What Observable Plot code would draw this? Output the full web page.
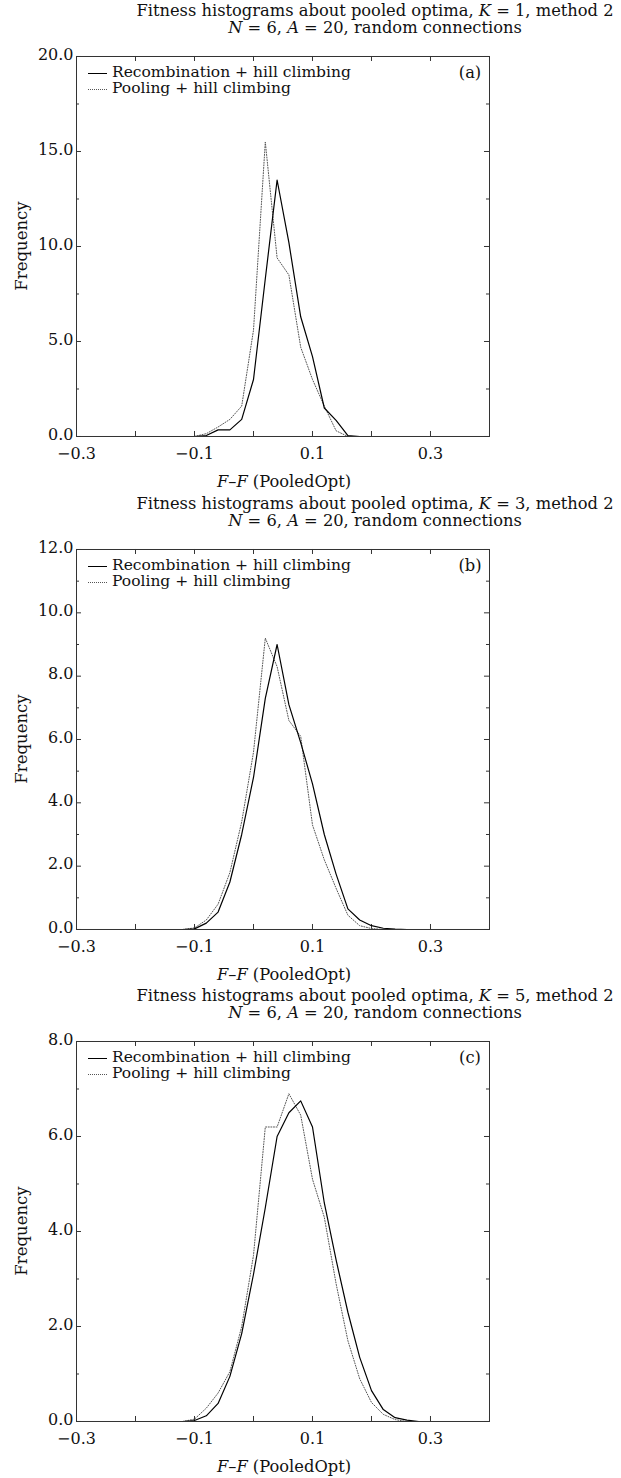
<!DOCTYPE html>
<html><head><meta charset="utf-8">
<script src="https://cdn.jsdelivr.net/npm/d3@7"></script>
<script src="https://cdn.jsdelivr.net/npm/@observablehq/plot@0.6"></script>
<style>
body{margin:0;background:#fff;}
#root{position:relative;width:621px;height:1478px;font-family:"DejaVu Serif",serif;color:#111;overflow:hidden;}
.panel{position:absolute;left:0;width:621px;height:493px;}
.panel svg{position:absolute;left:0;top:0;}
.t{position:absolute;white-space:nowrap;transform:translate(-50%,-50%);font-size:16.3px;line-height:1;}
.l{position:absolute;white-space:nowrap;transform:translate(0,-50%);font-size:15.5px;line-height:1;}
.ylab{position:absolute;white-space:nowrap;font-size:16.5px;line-height:1;transform:translate(-50%,-50%) rotate(-90deg);}
.samp{position:absolute;width:19px;height:0;}
</style>
</head><body>
<div id="root"></div>
<script>
// ---------- data ----------
const seriesNames = ["Recombination + hill climbing", "Pooling + hill climbing"];
const panelTags = ["(a)", "(b)", "(c)"];
const kValues = [1, 3, 5];
const yMaxes = [20, 12, 8];
const yMajorSteps = [5, 2, 2];
const yMinorSteps = [2.5, 1, 1];
const xLabelTicks = [-0.3, -0.1, 0.1, 0.3];
const xAllTicks = [-0.3, -0.2, -0.1, 0, 0.1, 0.2, 0.3, 0.4];

// Panel (a) K = 1
const aX      = [-0.1, -0.08, -0.06, -0.04, -0.02, 0, 0.02, 0.04, 0.06, 0.08, 0.1, 0.12, 0.14, 0.16, 0.18];
const aRecomb = [0, 0.05, 0.35, 0.35, 0.9, 3.0, 8.3, 13.5, 10.2, 6.3, 4.2, 1.5, 0.85, 0.05, 0];
const aPool   = [0, 0.15, 0.5, 0.9, 1.6, 5.6, 15.5, 9.4, 8.5, 4.7, 3.0, 1.6, 0.3, 0, 0];

// Panel (b) K = 3
const bX      = [-0.12, -0.1, -0.08, -0.06, -0.04, -0.02, 0, 0.02, 0.04, 0.06, 0.08, 0.1, 0.12, 0.14, 0.16, 0.18, 0.2, 0.22, 0.24, 0.26];
const bRecomb = [0, 0.02, 0.2, 0.55, 1.5, 3.0, 4.8, 7.3, 9.0, 7.1, 5.9, 4.6, 3.0, 1.75, 0.65, 0.3, 0.12, 0.04, 0.01, 0];
const bPool   = [0, 0.05, 0.3, 0.8, 1.8, 3.4, 5.6, 9.2, 8.3, 6.6, 6.1, 3.3, 2.2, 1.3, 0.45, 0.12, 0.03, 0, 0, 0];

// Panel (c) K = 5
const cX      = [-0.12, -0.1, -0.08, -0.06, -0.04, -0.02, 0, 0.02, 0.04, 0.06, 0.08, 0.1, 0.12, 0.14, 0.16, 0.18, 0.2, 0.22, 0.24, 0.26, 0.28];
const cRecomb = [0, 0.02, 0.12, 0.38, 0.95, 1.85, 3.1, 4.5, 6.0, 6.5, 6.75, 6.2, 4.6, 3.4, 2.3, 1.35, 0.65, 0.25, 0.08, 0.03, 0];
const cPool   = [0, 0.05, 0.28, 0.6, 1.05, 2.0, 3.5, 6.2, 6.2, 6.9, 6.45, 5.1, 4.3, 2.9, 1.7, 0.9, 0.4, 0.15, 0.04, 0, 0];

const panels = [
  {x: aX, r: aRecomb, p: aPool},
  {x: bX, r: bRecomb, p: bPool},
  {x: cX, r: cRecomb, p: cPool}
];

// ---------- layout ----------
const W = 621, H = 1478 / 3;
const mL = 76, mR = 132, mT = 56, frameH = 380;
const mB = H - mT - frameH;
const frameW = W - mL - mR;
const dash = s => String(s).replace("-", "\u2013");
const root = document.getElementById("root");

panels.forEach((pd, i) => {
  const div = document.createElement("div");
  div.className = "panel";
  div.style.top = (i * H) + "px";
  root.appendChild(div);

  const rows = pd.x.map((x, j) => ({x, y: pd.r[j], s: seriesNames[0]}));
  const rowsP = pd.x.map((x, j) => ({x, y: pd.p[j], s: seriesNames[1]}));

  const ymax = yMaxes[i];
  const yMajor = d3.range(0, ymax + 1e-9, yMajorSteps[i]);
  const yMinor = d3.range(0, ymax + 1e-9, yMinorSteps[i]).filter(v => !yMajor.some(m => Math.abs(m - v) < 1e-9));

  const plot = Plot.plot({
    width: W, height: H,
    marginLeft: mL, marginRight: mR, marginTop: mT, marginBottom: mB,
    x: {domain: [-0.3, 0.4]},
    y: {domain: [0, ymax]},
    style: {fontFamily: "DejaVu Serif", fontSize: "16px", background: "transparent", color: "#111"},
    marks: [
      Plot.ruleX(xAllTicks, {x: d => d, insetTop: frameH - 5, stroke: "#333"}),
      Plot.ruleX(xAllTicks, {x: d => d, insetBottom: frameH - 5, stroke: "#333"}),
      Plot.ruleY(yMajor, {y: d => d, insetRight: frameW - 5, stroke: "#333"}),
      Plot.ruleY(yMajor, {y: d => d, insetLeft: frameW - 5, stroke: "#333"}),
      Plot.ruleY(yMinor, {y: d => d, insetRight: frameW - 3, stroke: "#333"}),
      Plot.ruleY(yMinor, {y: d => d, insetLeft: frameW - 3, stroke: "#333"}),
      Plot.axisX({ticks: xLabelTicks, tickSize: 0, tickPadding: 11, tickFormat: d => dash(d3.format(".1f")(d)), label: null, fontSize: 16}),
      Plot.axisY({ticks: yMajor, tickSize: 0, tickPadding: 3, dy: -2, tickFormat: d3.format(".1f"), label: null, fontSize: 16}),
      Plot.line(rowsP, {x: "x", y: "y", stroke: "#555", strokeWidth: 1, strokeDasharray: "1,1.6"}),
      Plot.line(rows, {x: "x", y: "y", stroke: "#000", strokeWidth: 1.2}),
      Plot.frame({stroke: "#333", strokeWidth: 1})
    ]
  });
  div.appendChild(plot);

  const add = (cls, html, x, y, extra) => {
    const e = document.createElement("div");
    e.className = cls;
    e.innerHTML = html;
    e.style.left = x + "px";
    e.style.top = y + "px";
    if (extra) Object.assign(e.style, extra);
    div.appendChild(e);
    return e;
  };
  add("t", `Fitness histograms about pooled optima, <i>K</i> = ${kValues[i]}, method 2`, 375, 11);
  add("t", `<i>N</i> = 6, <i>A</i> = 20, random connections`, 375, 28);
  add("t", `<i>F</i>\u2013<i>F</i> (PooledOpt)`, 284, mT + frameH + 46);
  add("ylab", "Frequency", 22, mT + frameH / 2);
  // legend
  add("samp", "", 88, mT + 17, {borderTop: "1.2px solid #000"});
  add("samp", "", 88, mT + 33, {borderTop: "1px dotted #555"});
  add("l", seriesNames[0], 112, mT + 17);
  add("l", seriesNames[1], 112, mT + 33);
  add("t", panelTags[i], 470, mT + 17);
});
</script>
</body></html>
